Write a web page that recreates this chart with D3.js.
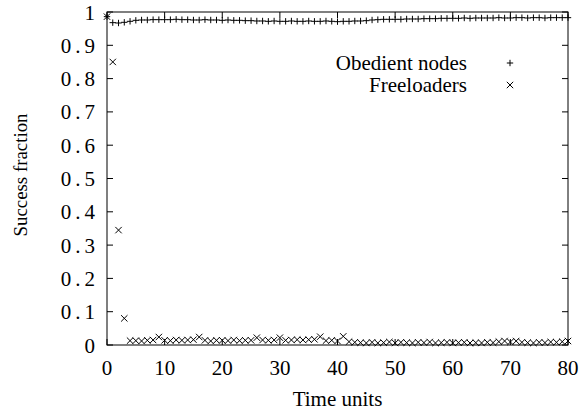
<!DOCTYPE html>
<html>
<head>
<meta charset="utf-8">
<script src="https://cdn.jsdelivr.net/npm/d3@7"></script>
<style>
  html, body { margin: 0; padding: 0; background: #fff; }
  svg text { font-family: "Liberation Serif", "Times New Roman", serif; font-size: 21px; fill: #000; }
</style>
</head>
<body>
<svg id="chart" width="579" height="413"></svg>
<script>
// Success fraction per time unit for each population
const timeUnits = d3.range(0, 81);
const obedient = [
  0.986, 0.968, 0.967, 0.969, 0.972, 0.975, 0.976, 0.976, 0.977, 0.977,
  0.977, 0.977, 0.978, 0.977, 0.977, 0.976, 0.976, 0.977, 0.976, 0.976,
  0.975, 0.976, 0.975, 0.975, 0.974, 0.974, 0.973, 0.973, 0.972, 0.973,
  0.972, 0.972, 0.973, 0.972, 0.972, 0.973, 0.972, 0.972, 0.973, 0.972,
  0.971, 0.972, 0.972, 0.973, 0.973, 0.974, 0.976, 0.977, 0.978, 0.978,
  0.978, 0.978, 0.979, 0.979, 0.979, 0.980, 0.980, 0.980, 0.981, 0.981,
  0.981, 0.981, 0.982, 0.981, 0.982, 0.982, 0.982, 0.982, 0.983, 0.982,
  0.982, 0.983, 0.983, 0.982, 0.983, 0.983, 0.982, 0.983, 0.983, 0.983,
  0.983
];
const freeloaders = [
  0.986, 0.850, 0.345, 0.080, 0.013, 0.013, 0.012, 0.014, 0.015, 0.024,
  0.014, 0.013, 0.015, 0.014, 0.015, 0.016, 0.024, 0.014, 0.012, 0.014,
  0.014, 0.013, 0.015, 0.013, 0.014, 0.014, 0.022, 0.015, 0.014, 0.015,
  0.022, 0.014, 0.015, 0.016, 0.015, 0.016, 0.017, 0.025, 0.013, 0.014,
  0.012, 0.026, 0.010, 0.008, 0.007, 0.006, 0.008, 0.006, 0.007, 0.009,
  0.006, 0.008, 0.007, 0.006, 0.008, 0.007, 0.009, 0.006, 0.007, 0.008,
  0.006, 0.007, 0.008, 0.006, 0.007, 0.006, 0.008, 0.007, 0.010, 0.012,
  0.009, 0.012, 0.008, 0.007, 0.006, 0.008, 0.007, 0.009, 0.008, 0.010,
  0.012
];
const xTicks = [0, 10, 20, 30, 40, 50, 60, 70, 80];
const yTicks = [0, 0.1, 0.2, 0.3, 0.4, 0.5, 0.6, 0.7, 0.8, 0.9, 1];
const seriesNames = ["Obedient nodes", "Freeloaders"];

const svg = d3.select("#chart");
const plotLeft = 107, plotRight = 568, plotTop = 12, plotBottom = 345;
const x = d3.scaleLinear().domain([0, 80]).range([plotLeft, plotRight]);
const y = d3.scaleLinear().domain([0, 1]).range([plotBottom, plotTop]);
const tickLen = 6;

// Frame
svg.append("rect")
  .attr("x", plotLeft).attr("y", plotTop)
  .attr("width", plotRight - plotLeft).attr("height", plotBottom - plotTop)
  .attr("fill", "none").attr("stroke", "#000").attr("stroke-width", 1);

// Inward ticks, mirrored on all four sides
const tg = svg.append("g").attr("stroke", "#000").attr("stroke-width", 1);
xTicks.forEach(t => {
  tg.append("line").attr("x1", x(t)).attr("x2", x(t)).attr("y1", plotBottom).attr("y2", plotBottom - tickLen);
  tg.append("line").attr("x1", x(t)).attr("x2", x(t)).attr("y1", plotTop).attr("y2", plotTop + tickLen);
});
yTicks.forEach(t => {
  tg.append("line").attr("x1", plotLeft).attr("x2", plotLeft + tickLen).attr("y1", y(t)).attr("y2", y(t));
  tg.append("line").attr("x1", plotRight).attr("x2", plotRight - tickLen).attr("y1", y(t)).attr("y2", y(t));
});

// Tick labels
svg.append("g").selectAll("text").data(xTicks).join("text")
  .attr("x", d => x(d)).attr("y", 375)
  .attr("text-anchor", "middle").text(d => d);
svg.append("g").selectAll("text").data(yTicks).join("text")
  .attr("x", 95 + 4).attr("y", d => y(d) + 7.5)
  .attr("letter-spacing", "4px")
  .attr("text-anchor", "end").text(d => d);

// Axis titles
svg.append("text").attr("x", (plotLeft + plotRight) / 2).attr("y", 406)
  .attr("text-anchor", "middle").text("Time units");
svg.append("text")
  .attr("transform", "translate(27,175) rotate(-90)")
  .attr("text-anchor", "middle")
  .style("font-size", "19px")
  .attr("textLength", 123).attr("lengthAdjust", "spacingAndGlyphs")
  .text("Success fraction");

// Point markers
const s = 3.2;
function plus(g, cx, cy) {
  g.append("path").attr("d", `M${cx - s},${cy}H${cx + s}M${cx},${cy - s}V${cy + s}`);
}
function cross(g, cx, cy) {
  g.append("path").attr("d", `M${cx - s},${cy - s}L${cx + s},${cy + s}M${cx - s},${cy + s}L${cx + s},${cy - s}`);
}

const pg = svg.append("g").attr("stroke", "#000").attr("stroke-width", 1).attr("fill", "none");
timeUnits.forEach((t, i) => plus(pg, x(t), y(obedient[i])));
timeUnits.forEach((t, i) => cross(pg, x(t), y(freeloaders[i])));

// Legend
const lg = svg.append("g");
const legendY = [63, 85];
seriesNames.forEach((name, i) => {
  lg.append("text").attr("x", 467).attr("y", legendY[i] + 7)
    .attr("text-anchor", "end").text(name);
});
const lm = lg.append("g").attr("stroke", "#000").attr("stroke-width", 1).attr("fill", "none");
plus(lm, 510, legendY[0]);
cross(lm, 510, legendY[1]);
</script>
</body>
</html>
